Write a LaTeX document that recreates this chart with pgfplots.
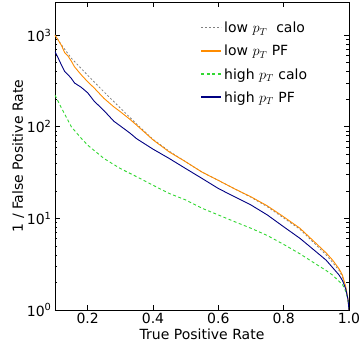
\documentclass[border=0pt]{standalone}
\usepackage{pgfplots}
\pgfplotsset{compat=1.18}
\usepackage{fontspec}
\setmainfont{DejaVu Sans}
\definecolor{cOrange}{RGB}{255,140,0}
\definecolor{cGreen}{RGB}{50,215,50}
\definecolor{cBlue}{RGB}{0,0,130}
\definecolor{cGray}{RGB}{128,128,128}
\begin{document}
\begin{tikzpicture}[x=1pt,y=1pt]
\path[use as bounding box] (-55,-33) rectangle (306,310);
\begin{axis}[
  at={(0,0)}, anchor=south west,
  scale only axis, width=294pt, height=308pt,
  ymode=log, xmin=0.1, xmax=1.0, ymin=1, ymax=2300,
  xtick={0.2,0.4,0.6,0.8,1.0},
  ytick={1,10,100,1000},
  yticklabels={10\textsuperscript{0},10\textsuperscript{1},10\textsuperscript{2},10\textsuperscript{3}},
  xticklabel style={/pgf/number format/fixed,/pgf/number format/fixed zerofill,/pgf/number format/precision=1},
  /pgf/number format/assume math mode=true,
  tick align=inside, major tick length=5pt, minor tick length=2.5pt,
  every tick/.style={black, line width=0.6pt},
  tick label style={font=\fontsize{14}{16}\selectfont},
  label style={font=\fontsize{14}{16}\selectfont},
  xlabel={True Positive Rate}, ylabel={1 / False Positive Rate},
  xlabel style={yshift=2pt}, ylabel style={yshift=-4pt},
  axis line style={line width=0.8pt},
  legend style={draw=none, fill=none, at={(rel axis cs:0.485,0.948)}, anchor=north west,
    font=\fontsize{14}{16}\selectfont, row sep=7pt},
  legend cell align=left,
  legend image code/.code={\draw[#1,line width=1.4pt] (0pt,0.5pt) -- (20pt,0.5pt);},
]
\addplot[color=cGray, line width=0.8pt, dash pattern=on 2pt off 2pt] coordinates {
(0.1,1000)(0.12,780)(0.15,560)(0.2,365)(0.25,240)(0.3,160)(0.35,107)(0.4,73)(0.45,54)(0.5,41.5)(0.55,32)(0.6,26)(0.65,21)(0.7,17)(0.75,13.4)(0.8,10.1)(0.85,7.6)(0.9,5.1)(0.93,4.0)(0.95,3.3)(0.97,2.7)(0.98,2.3)(0.99,1.75)(0.997,1.3)(1.0,1.0)};
\addlegendentry{low $p_T$\ \ calo}
\addplot[color=cOrange, line width=0.9pt] coordinates {
(0.1,1000)(0.11,880)(0.12,770)(0.13,640)(0.14,590)(0.15,520)(0.16,450)(0.18,370)(0.2,310)(0.22,265)(0.25,204)(0.28,165)(0.3,146)(0.33,120)(0.35,104)(0.4,72)(0.45,53)(0.5,41.5)(0.55,32)(0.6,26)(0.65,21)(0.7,17.2)(0.75,13.7)(0.8,10.4)(0.85,7.8)(0.9,5.3)(0.93,4.2)(0.95,3.5)(0.97,2.8)(0.98,2.4)(0.99,1.8)(0.997,1.3)(1.0,1.0)};
\addlegendentry{low $p_T$ PF}
\addplot[color=cGreen, line width=0.9pt, dash pattern=on 3pt off 2.5pt] coordinates {
(0.1,221)(0.12,160)(0.15,100)(0.18,75)(0.2,63)(0.25,45)(0.3,35)(0.35,28.5)(0.4,23)(0.45,18.7)(0.5,15.9)(0.55,12.9)(0.6,10.9)(0.65,9.2)(0.7,7.8)(0.75,6.5)(0.8,5.2)(0.85,4.1)(0.9,3.15)(0.93,2.7)(0.95,2.4)(0.97,2.05)(0.98,1.9)(0.99,1.6)(0.997,1.3)(1.0,1.0)};
\addlegendentry{high $p_T$ calo}
\addplot[color=cBlue, line width=0.9pt] coordinates {
(0.1,660)(0.11,560)(0.12,470)(0.13,400)(0.14,370)(0.15,337)(0.16,300)(0.18,270)(0.2,235)(0.22,190)(0.25,150)(0.28,115)(0.3,102)(0.33,85)(0.35,74)(0.4,57)(0.45,45)(0.5,35)(0.55,27.3)(0.6,21.2)(0.65,17.2)(0.7,14)(0.75,10.9)(0.8,8.1)(0.85,6.05)(0.9,4.3)(0.93,3.5)(0.95,2.9)(0.97,2.4)(0.98,2.1)(0.99,1.7)(0.997,1.3)(1.0,1.0)};
\addlegendentry{high $p_T$ PF}
\end{axis}
\end{tikzpicture}
\end{document}
